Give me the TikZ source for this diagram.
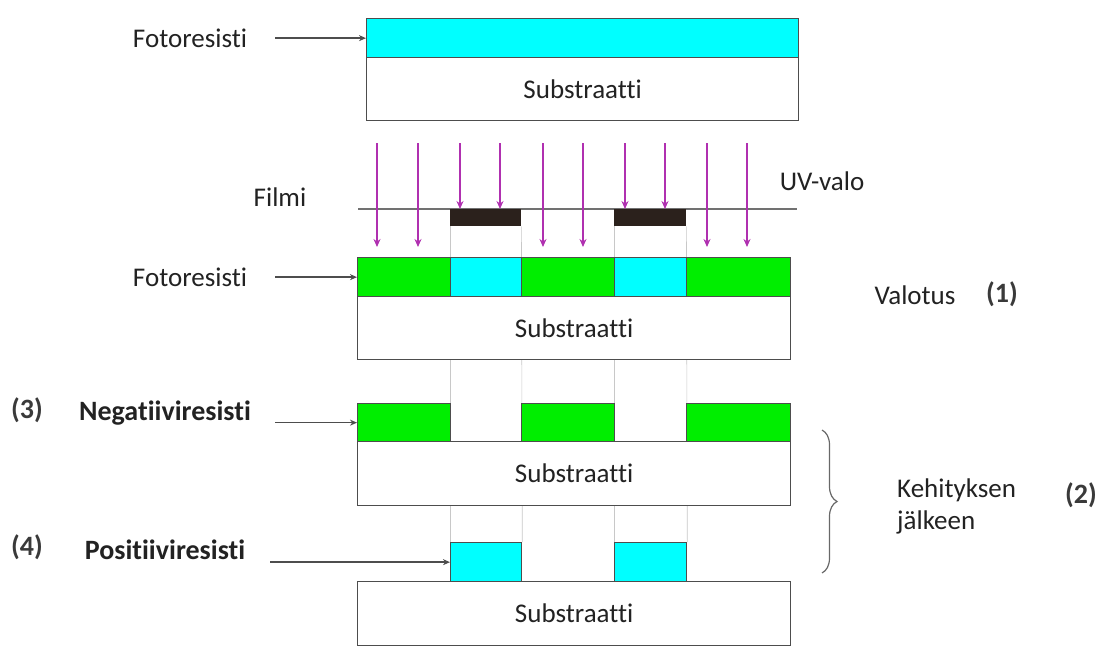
\documentclass[tikz,border=0pt]{standalone}
\usepackage{fontspec}
\setmainfont{Carlito}[Ligatures={NoCommon}]
\usetikzlibrary{arrows.meta,decorations.pathreplacing,calc}
\pgfdeclarelayer{background}
\pgfsetlayers{background,main}
\definecolor{edge}{HTML}{4D4D4D}
\definecolor{cyanr}{HTML}{00FFFF}
\definecolor{greenr}{HTML}{00EE00}
\definecolor{uvray}{HTML}{B030B0}
\definecolor{maskc}{HTML}{2B211C}
\definecolor{ink}{HTML}{222222}
\definecolor{numink}{HTML}{3A3A3A}
\definecolor{guidec}{HTML}{C8C8C8}
\begin{document}
\begin{tikzpicture}[x=1pt,y=-1pt,
  every node/.style={text=ink, font=\fontsize{27}{32}\selectfont},
  slab/.style={draw=edge, line width=1.3pt, inner sep=0pt, anchor=north west},
  resist/.style={slab, minimum height=39},
  sub/.style={slab, fill=white, minimum width=433, minimum height=63},
  mask/.style={fill=maskc, inner sep=0pt, anchor=north west, minimum height=17},
  lbl/.style={inner sep=0pt},
  boldlbl/.style={inner sep=0pt, font=\fontsize{28}{32}\selectfont\bfseries},
  num/.style={inner sep=0pt, text=numink, font=\fontsize{28}{32}\selectfont\bfseries},
  ptr/.style={draw=edge, line width=1.4pt, -{Stealth[length=7pt,width=6pt]}},
  uv/.style={draw=uvray, line width=1.4pt, -{Stealth[length=8pt,width=7pt]}},
  guide/.style={draw=guidec, line width=0.6pt},
  film/.style={draw=edge!80, line width=2pt},
  curly/.style={draw=edge!85, line width=1.2pt, decorate,
    decoration={brace, amplitude=15pt}}]
\useasboundingbox (0,0) rectangle (1109,667);

% --- step 0: resist-coated substrate
\node[resist, fill=cyanr, minimum width=432] (top) at (366,18) {};
\node[sub, minimum width=432] (topsub) at (366,57) {Substraatti};
\node[lbl] (lf1) at (190,38) {Fotoresisti};
\coordinate (a1) at (275,0);
\draw[ptr] (a1 |- top.west) -- (top.west);

% --- film with opaque mask regions
\coordinate (fl) at (358,209);
\coordinate (fr) at (797,209);
\draw[film] (fl) -- (fr);
\node[mask, minimum width=71] (m1) at (450,209) {};
\node[mask, minimum width=72] (m2) at (614,209) {};
\node[lbl] (filmi) at (280,197) {Filmi};
\node[lbl] (uvl) at (822,181) {UV-valo};

% --- UV rays: the open ones reach the resist, the others stop on the mask
\foreach \x in {377,418,543,583,707,747}
  \draw[uv] (\x,143) -- (\x,247);
\foreach \x in {460,500}
  \draw[uv] (\x,143) -- (\x,143 |- m1.north);
\foreach \x in {625,665}
  \draw[uv] (\x,143) -- (\x,143 |- m2.north);

% --- step 1: exposure
\node[resist, fill=greenr, minimum width=93] (e1) at (357,257) {};
\node[resist, fill=cyanr,  minimum width=71] (e2) at (450,257) {};
\node[resist, fill=greenr, minimum width=93] (e3) at (521,257) {};
\node[resist, fill=cyanr,  minimum width=72] (e4) at (614,257) {};
\node[resist, fill=greenr, minimum width=104] (e5) at (686,257) {};
\node[sub] (esub) at (357,296) {Substraatti};
\node[lbl] (lf2) at (190,277) {Fotoresisti};
\coordinate (a2) at (275,0);
\draw[ptr] (a2 |- e1.west) -- (e1.west);
\node[lbl] (valotus) at (915,295) {Valotus};
\node[num] (n1) at (1002,294) {(1)};

% --- step 3: negative resist after development
\node[resist, fill=greenr, minimum width=93, minimum height=38] (g1) at (357,403) {};
\node[resist, fill=greenr, minimum width=93, minimum height=38] (g2) at (521,403) {};
\node[resist, fill=greenr, minimum width=104, minimum height=38] (g3) at (686,403) {};
\node[sub, minimum height=64] (nsub) at (357,441) {Substraatti};
\node[num] (n3) at (27,410) {(3)};
\node[boldlbl] (neg) at (165,413) {Negatiiviresisti};
\coordinate (a3) at (275,0);
\draw[ptr] (a3 |- g1.west) -- (g1.west);

% --- step 4: positive resist after development
\node[resist, fill=cyanr, minimum width=71] (p1) at (450,542) {};
\node[resist, fill=cyanr, minimum width=72] (p2) at (614,542) {};
\node[sub, minimum height=64] (psub) at (357,581) {Substraatti};
\node[num] (n4) at (27,547) {(4)};
\node[boldlbl] (pos) at (165,550) {Positiiviresisti};
\coordinate (a4) at (270,0);
\draw[ptr] (a4 |- p1.west) -- (p1.west);

% --- faint alignment lines from the mask edges
\begin{pgfonlayer}{background}
  \draw[guide] (m1.south west) -- (p1.north west);
  \draw[guide] (m1.south east) -- (p1.north east);
  \draw[guide] (m2.south west) -- (p2.north west);
  \draw[guide] (m2.south east) -- (p2.north east);
\end{pgfonlayer}

% --- brace grouping the developed results
\coordinate (bt) at (822,430);
\coordinate (bb) at (822,573);
\draw[curly] (bt) -- (bb);
\node[lbl, anchor=west] (keh) at (897,490) {Kehityksen};
\node[lbl, anchor=west] (jalk) at (897,522) {jälkeen};
\node[num] (n2) at (1081,495) {(2)};
\end{tikzpicture}
\end{document}
